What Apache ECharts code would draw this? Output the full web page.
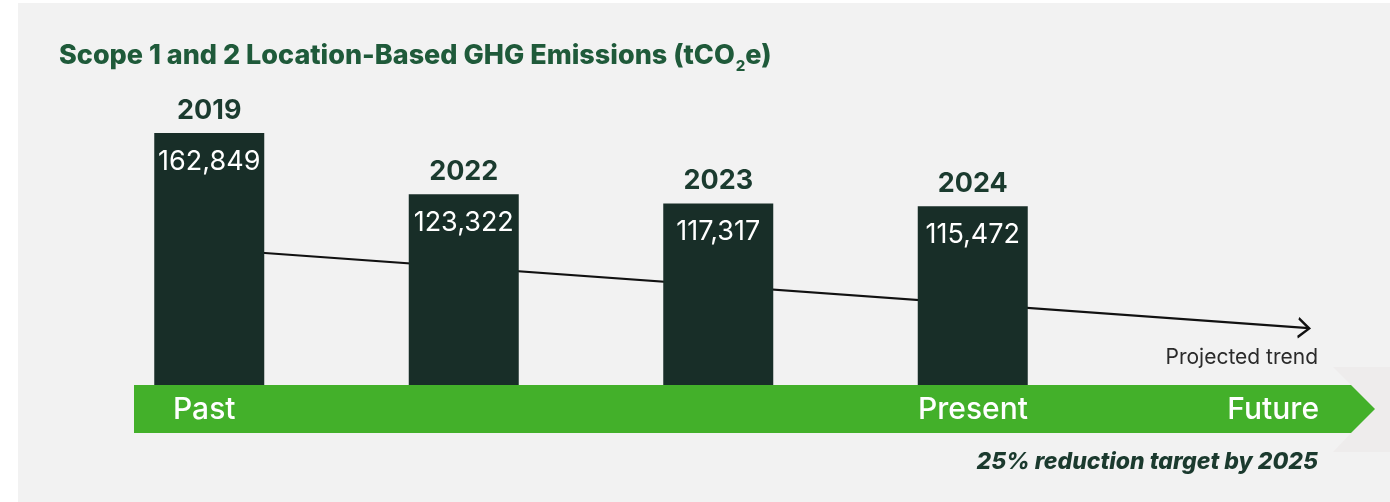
<!DOCTYPE html>
<html><head><meta charset="utf-8">
<script src="https://cdn.jsdelivr.net/npm/echarts@6/dist/echarts.min.js"></script>
<style>
html,body{margin:0;padding:0;background:#fff;}
#panel{position:absolute;left:18px;top:3px;width:1372px;height:499px;background:#f2f2f2;}
#chart{position:absolute;left:0;top:0;width:1390px;height:502px;}
</style></head><body>
<div id="panel"></div><div id="chart"></div>
<script>
// ---- data ----
const years = ['2019', '2022', '2023', '2024'];
const futureSlot = [''];            // empty category to the right for the projection
const emissions = [162849, 123322, 117317, 115472];
// projected trend line: [category position, tCO2e]
const trendStart = [0, 87900];
const trendEnd = [4.32, 36800];
const timelineLabels = ['Past', 'Present', 'Future'];
const trendLabel = 'Projected trend';
const targetNote = '25% reduction target by 2025';
const titleParts = ['Scope 1 and 2 Location-Based GHG Emissions (tCO', '2', 'e)'];

const chart = echarts.init(document.getElementById('chart'), null, {renderer: 'canvas'});
const FONT = 'Inter, "Noto Sans", sans-serif';
const option = {
  animation: false,
  backgroundColor: 'transparent',
  title: {
    left: 59, top: 40, padding: 0,
    text: '{a|' + titleParts[0] + '}{s|' + titleParts[1] + '}{a|' + titleParts[2] + '}',
    textStyle: {
      rich: {
        a: {fontFamily: FONT, fontSize: 27, fontWeight: 800, color: '#1f5a3a', lineHeight: 31},
        s: {fontFamily: FONT, fontSize: 15, fontWeight: 800, color: '#1f5a3a', lineHeight: 15, padding: [22, 0, 0, 1]}
      }
    }
  },
  grid: {left: 82, top: 106.5, width: 1272.5, height: 278.5},
  xAxis: [
    {type: 'category', data: years.concat(futureSlot), show: false},
    {type: 'value', min: -0.5, max: 4.5, show: false}
  ],
  yAxis: {type: 'value', min: 0, max: 180000, show: false},
  series: [
    {
      type: 'line', xAxisIndex: 1, z: 1, silent: true, clip: false,
      symbol: 'none',
      lineStyle: {color: '#111', width: 2.2},
      data: [
        trendStart,
        {value: trendEnd, symbol: 'path://M0 0 L10 9 L0 18', symbolSize: [11, 19], symbolRotate: -4, symbolOffset: [-5, 0],
         itemStyle: {color: 'none', borderColor: '#111', borderWidth: 2.2}}
      ]
    },
    {
      type: 'bar', data: emissions, barWidth: 110, z: 3,
      itemStyle: {color: '#182e28'},
      label: {show: true, position: 'insideTop', distance: 15, color: '#fff', fontSize: 27, fontFamily: FONT, fontWeight: 400,
        formatter: p => p.value.toLocaleString('en-US')}
    },
    {
      type: 'bar', data: emissions, barWidth: 110, barGap: '-100%', silent: true, z: 3,
      itemStyle: {color: 'rgba(0,0,0,0)'},
      label: {show: true, position: 'top', distance: 9, color: '#1b3b2f', fontSize: 27, fontFamily: FONT, fontWeight: 'bold',
        formatter: '{b}'}
    }
  ],
  graphic: [
    {type: 'polygon', z: 1, silent: true, shape: {points: [[1333, 367], [1400, 367], [1400, 452], [1333, 452], [1351, 433], [1351, 385]]},
      style: {fill: '#eeecec'}},
    {type: 'polygon', z: 10, silent: true, shape: {points: [[134, 385], [1351, 385], [1375, 409], [1351, 433], [134, 433]]},
      style: {fill: '#43b02a'}},
    {type: 'text', z: 11, silent: true, style: {text: timelineLabels[0], x: 173, y: 410, textAlign: 'left', textVerticalAlign: 'middle',
      fontSize: 30, fontWeight: 500, fontFamily: FONT, fill: '#fff'}},
    {type: 'text', z: 11, silent: true, style: {text: timelineLabels[1], x: 973, y: 410, textAlign: 'center', textVerticalAlign: 'middle',
      fontSize: 30, fontWeight: 500, fontFamily: FONT, fill: '#fff'}},
    {type: 'text', z: 11, silent: true, style: {text: timelineLabels[2], x: 1319, y: 410, textAlign: 'right', textVerticalAlign: 'middle',
      fontSize: 30, fontWeight: 500, fontFamily: FONT, fill: '#fff'}},
    {type: 'text', z: 11, silent: true, style: {text: trendLabel, x: 1318, y: 358, textAlign: 'right', textVerticalAlign: 'middle',
      fontSize: 21, fontWeight: 400, fontFamily: FONT, fill: '#2b2b2b'}},
    {type: 'text', z: 11, silent: true, style: {text: targetNote, x: 1318, y: 462, textAlign: 'right', textVerticalAlign: 'middle',
      fontSize: 23, fontWeight: 800, fontStyle: 'italic', fontFamily: FONT, fill: '#1b3a2e'}}
  ]
};
chart.setOption(option);
</script>
</body></html>
